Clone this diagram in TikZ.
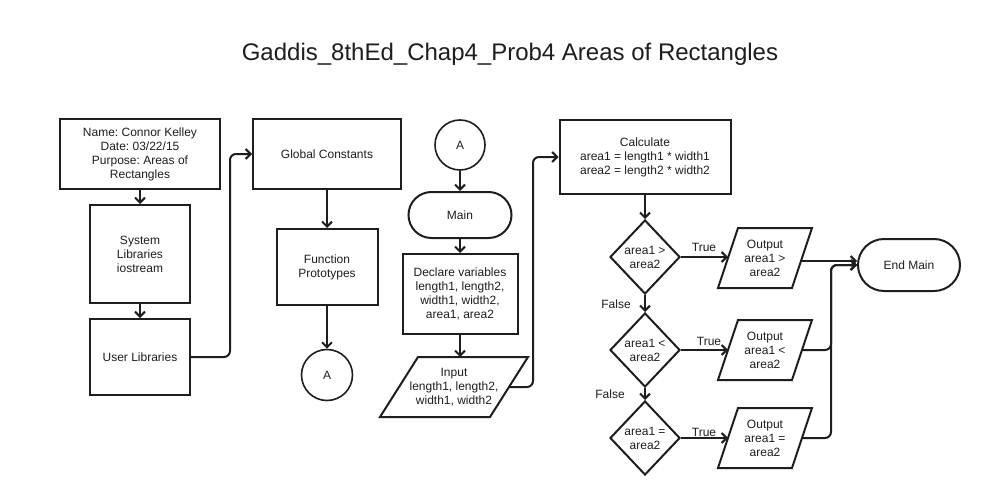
\documentclass[tikz,border=0pt]{standalone}
\usepackage{fontspec}
\setmainfont{Liberation Sans}
\usetikzlibrary{arrows.meta,shapes.geometric,shapes.misc,calc}
\definecolor{ink}{HTML}{1E1E1E}
\frenchspacing
\begin{document}
\begin{tikzpicture}[x=1pt,y=-1pt,
  every node/.style={font=\fontsize{12}{14}\selectfont, align=center, text=ink},
  box/.style={draw=ink, line width=2pt, rectangle, inner sep=0pt},
  term/.style={draw=ink, line width=2pt, rounded rectangle, inner sep=0pt},
  conn/.style={draw=ink, line width=1.6pt, circle, inner sep=0pt, minimum size=51pt},
  dec/.style={draw=ink, line width=2pt, diamond, inner sep=0pt, minimum width=70pt, minimum height=74pt},
  txt/.style={inner sep=0pt},
  shp/.style={draw=ink, line width=2pt, line join=miter},
  lbl/.style={inner sep=0pt},
  flow/.style={draw=ink, line width=2pt, -{Straight Barb[length=5pt,width=10pt,line width=2pt]}, rounded corners=6pt}
]
\useasboundingbox[fill=white] (0,0) rectangle (986,495);

\node[font=\fontsize{24}{28}\selectfont] (title) at (510,54) {Gaddis\_8thEd\_Chap4\_Prob4 Areas of Rectangles};

% column 1
\node[box, minimum width=160pt, minimum height=70pt] (info) at (140,154) {Name: Connor Kelley\\Date: 03/22/15\\Purpose: Areas of\\Rectangles};
\node[box, minimum width=100pt, minimum height=98pt] (sys) at (140,254) {System\\Libraries\\iostream};
\node[box, minimum width=100pt, minimum height=76pt] (usr) at (140,357) {User Libraries};

% column 2
\node[box, minimum width=148pt, minimum height=70pt] (glob) at (327,154) {Global Constants};
\node[box, minimum width=101pt, minimum height=76pt] (proto) at (327,267) {Function\\Prototypes};
\node[conn] (ca1) at (327,375) {A};

% column 3
\node[conn, minimum size=50pt] (ca2) at (460,145) {A};
\node[term, minimum width=103pt, minimum height=46pt] (main) at (460,215) {Main};
\node[box, minimum width=115pt, minimum height=80pt] (decl) at (460,294) {Declare variables\\length1, length2,\\width1, width2,\\area1, area2};
\node[txt] (inp) at (454,387) {Input\\length1, length2,\\width1, width2};
\draw[shp] ($(inp)+(-74,30)$) -- ++(110,0) -- ++(38,-60) -- ++(-110,0) -- cycle;
\coordinate (inpT) at ($(inp)+(0,-30)$);
\coordinate (inpR) at ($(inp)+(55,0)$);

% column 4
\node[box, minimum width=171pt, minimum height=74pt] (calc) at (645,157) {Calculate\\area1 = length1 * width1\\area2 = length2 * width2};
\node[dec] (d1) at (645,257) {area1 \textgreater\\area2};
\node[dec] (d2) at (645,350) {area1 \textless\\area2};
\node[dec] (d3) at (645,438) {area1 =\\area2};

% outputs
\node[txt] (o1) at (765,258) {Output\\area1 \textgreater\\area2};
\draw[shp] ($(o1)+(-47,30)$) -- ++(74,0) -- ++(20,-60) -- ++(-74,0) -- cycle;
\node[txt] (o2) at (765,350) {Output\\area1 \textless\\area2};
\draw[shp] ($(o2)+(-47,30)$) -- ++(74,0) -- ++(20,-60) -- ++(-74,0) -- cycle;
\node[txt] (o3) at (765,438) {Output\\area1 =\\area2};
\draw[shp] ($(o3)+(-47,30)$) -- ++(74,0) -- ++(20,-60) -- ++(-74,0) -- cycle;
\coordinate (o1L) at ($(o1)+(-37,0)$);
\coordinate (o2L) at ($(o2)+(-37,0)$);
\coordinate (o3L) at ($(o3)+(-37,0)$);
\coordinate (o1R) at ($(o1)+(36,3)$);
\coordinate (o2R) at ($(o2)+(37,0)$);
\coordinate (o3R) at ($(o3)+(37,0)$);

\node[term, minimum width=102pt, minimum height=52pt] (endm) at (909,265) {End Main};

% connectors
\draw[flow] (info.south) -- (sys.north);
\draw[flow] (sys.south) -- (usr.north);
\draw[flow] (usr.east) -- ++(39,0) |- (glob.west);
\draw[flow] (glob.south) -- (proto.north);
\draw[flow] (proto.south) -- (ca1.north);
\draw[flow] (ca2.south) -- (main.north);
\draw[flow] (main.south) -- (decl.north);
\draw[flow] (decl.south) -- (decl.south |- inpT);
\draw[flow] (inpR) -- ++(24,0) |- (calc.west);
\draw[flow] (calc.south) -- (d1.north);
\draw[flow] (d1.south) -- (d2.north);
\draw[flow] (d2.south) -- (d3.north);
\draw[flow] (d1.east) -- (d1.east -| o1L);
\draw[flow] (d2.east) -- (d2.east -| o2L);
\draw[flow] (d3.east) -- (d3.east -| o3L);
\draw[flow] (o1R) -- (o1R -| endm.west);
\draw[flow] (o2R) -- ++(29,0) |- (endm.west);
\draw[flow] (o3R) -- ++(29,0) |- (endm.west);

% labels
\node[lbl] (t1) at (704,247) {True};
\node[lbl] (t2) at (709,341) {True};
\node[lbl] (t3) at (704,432) {True};
\node[lbl] (f1) at (616,304) {False};
\node[lbl] (f2) at (610,394) {False};
\end{tikzpicture}
\end{document}
